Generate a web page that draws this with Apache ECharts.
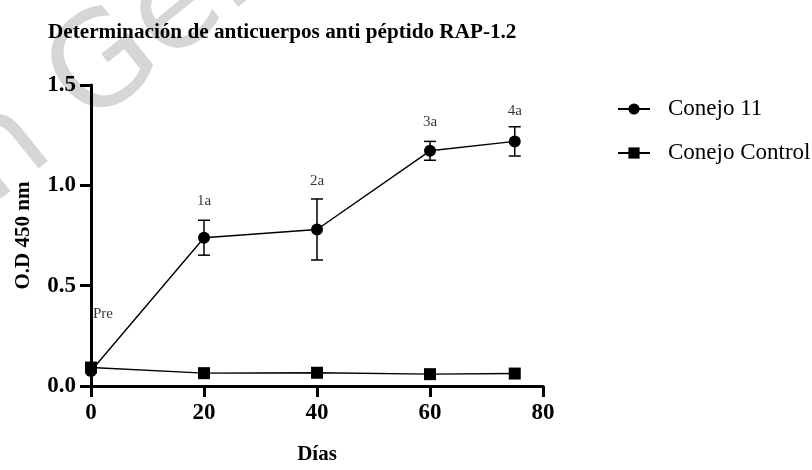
<!DOCTYPE html>
<html><head><meta charset="utf-8">
<script src="https://cdn.jsdelivr.net/npm/echarts@6/dist/echarts.min.js"></script>
<style>html,body{margin:0;padding:0;background:#fff}#c{width:812px;height:470px}</style>
</head><body><div id="c"></div>
<script>
const days = [0, 20, 40, 60, 75];
const conejo11 = [0.075, 0.739, 0.780, 1.172, 1.219];
const conejo11Err = [0, 0.087, 0.152, 0.047, 0.073];
const control = [0.092, 0.064, 0.066, 0.059, 0.062];
const annotTexts = ['Pre', '1a', '2a', '3a', '4a'];
const annotY = [0.36, 0.923, 1.02, 1.313, 1.37];
const seriesNames = ['Conejo 11', 'Conejo Control'];
const titleText = 'Determinación de anticuerpos anti péptido RAP-1.2';
const xName = 'Días';
const yName = 'O.D 450 nm';
const watermarkText = 'on Gen';

const FONT = 'Liberation Serif';
const chart = echarts.init(document.getElementById('c'), null, {renderer: 'canvas'});

const errData = [];
days.forEach((d, i) => {
  if (conejo11Err[i] > 0) errData.push([d, conejo11[i] - conejo11Err[i], conejo11[i] + conejo11Err[i]]);
});
const annotData = days.map((d, i) => ({
  value: [d, annotY[i]],
  label: i === 0 ? {align: 'left', offset: [2, 0]} : {align: 'center'}
}));

const axisCommon = {
  axisLine: {show: true, lineStyle: {color: '#000', width: 3}},
  axisTick: {show: true, inside: false, length: 11, lineStyle: {color: '#000', width: 3}},
  splitLine: {show: false},
  axisLabel: {color: '#000', fontFamily: FONT, fontWeight: 'bold', fontSize: 23},
  nameTextStyle: {color: '#000', fontFamily: FONT, fontWeight: 'bold', fontSize: 21}
};

chart.setOption({
  animation: false,
  backgroundColor: '#fff',
  title: {
    text: titleText, left: 43, top: 17,
    textStyle: {fontFamily: FONT, fontWeight: 'bold', fontSize: 21.2, color: '#000'}
  },
  graphic: [{
    type: 'text', z: -10, silent: true,
    x: -50, y: 280, rotation: 0.68,
    style: {text: watermarkText, fill: '#d6d6d6', font: '130px "DejaVu Sans"', textAlign: 'left', textVerticalAlign: 'bottom'}
  }],
  legend: {
    orient: 'vertical', left: 612, top: 92, itemWidth: 32, itemHeight: 14, itemGap: 20,
    data: seriesNames,
    textStyle: {fontFamily: FONT, fontSize: 23, color: '#000', lineHeight: 24, padding: [0, 0, 0, 13]}
  },
  grid: {left: 91, right: 269, top: 85, bottom: 77, containLabel: false},
  xAxis: Object.assign({}, axisCommon, {
    type: 'value', min: 0, max: 80, interval: 20,
    name: xName, nameLocation: 'middle', nameGap: 58,
    axisLabel: Object.assign({}, axisCommon.axisLabel, {margin: 16})
  }),
  yAxis: Object.assign({}, axisCommon, {
    type: 'value', min: 0, max: 1.5, interval: 0.5,
    name: yName, nameLocation: 'middle', nameGap: 57,
    axisLabel: Object.assign({}, axisCommon.axisLabel, {margin: 15, formatter: v => v.toFixed(1)})
  }),
  series: [
    {
      name: seriesNames[0], type: 'line', z: 4,
      data: days.map((d, i) => [d, conejo11[i]]),
      symbol: 'circle', symbolSize: 12,
      lineStyle: {color: '#000', width: 1.4}, itemStyle: {color: '#000'}
    },
    {
      name: seriesNames[1], type: 'line', z: 4,
      data: days.map((d, i) => [d, control[i]]),
      symbol: 'rect', symbolSize: 12,
      lineStyle: {color: '#000', width: 1.4}, itemStyle: {color: '#000'}
    },
    {
      type: 'custom', z: 3, silent: true,
      data: errData,
      renderItem: (params, api) => {
        const x = api.value(0);
        const lo = api.coord([x, api.value(1)]);
        const hi = api.coord([x, api.value(2)]);
        const w = 6;
        const st = {stroke: '#000', lineWidth: 1.5};
        return {type: 'group', children: [
          {type: 'line', shape: {x1: lo[0], y1: lo[1], x2: hi[0], y2: hi[1]}, style: st},
          {type: 'line', shape: {x1: hi[0] - w, y1: hi[1], x2: hi[0] + w, y2: hi[1]}, style: st},
          {type: 'line', shape: {x1: lo[0] - w, y1: lo[1], x2: lo[0] + w, y2: lo[1]}, style: st}
        ]};
      }
    },
    {
      type: 'scatter', z: 5, silent: true, symbolSize: 0,
      data: annotData,
      label: {show: true, position: 'inside', formatter: p => annotTexts[p.dataIndex],
        fontFamily: FONT, fontSize: 15, color: '#000'}
    }
  ]
});
</script>
</body></html>
